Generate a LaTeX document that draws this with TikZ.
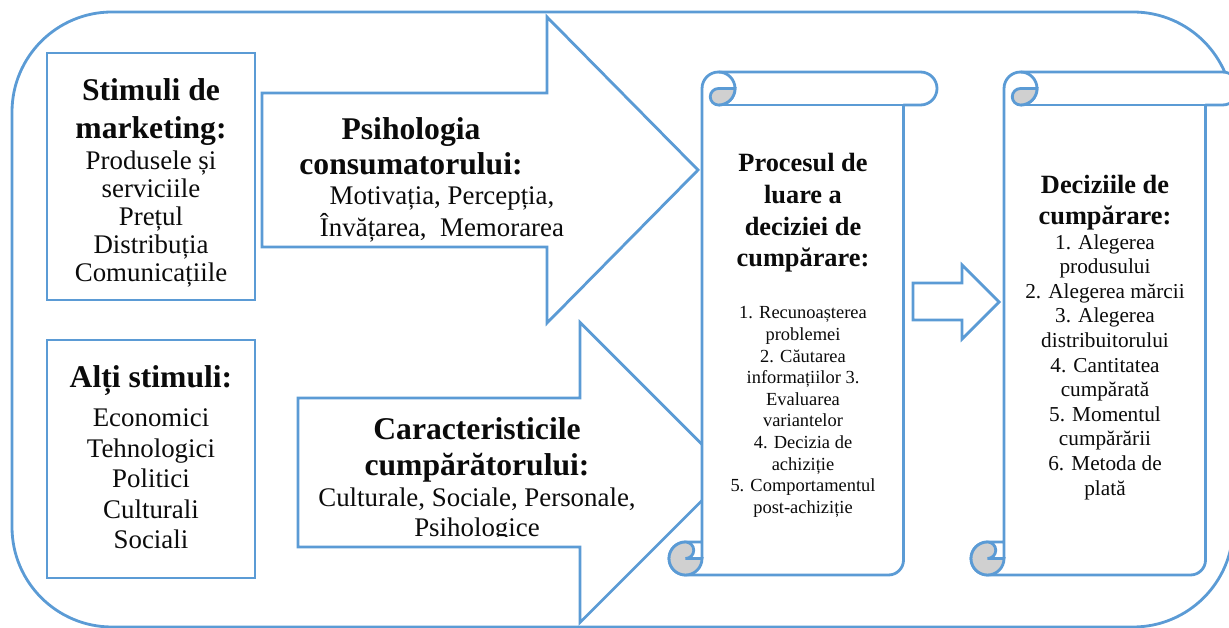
\documentclass[tikz,border=0pt]{standalone}
\usepackage{fontspec}
\setmainfont{Liberation Serif}
\usetikzlibrary{calc,positioning}
\definecolor{cblue}{HTML}{5B9BD5}
\definecolor{cgrey}{HTML}{D0D0D0}
\definecolor{cink}{HTML}{0B0B0B}
\newcommand\scrollat[1]{% x shift of one scroll
  \begin{scope}[shift={(#1,0)}]
  \filldraw[roll] (702,69.5) -- (702,539.5) arc[start angle=180,end angle=90,radius=16.5]
    -- (920.5,556) arc[start angle=90,end angle=-90,radius=16.5] -- (903.5,523)
    -- (903.5,68) arc[start angle=0,end angle=-90,radius=15] -- (685.5,53)
    arc[start angle=270,end angle=90,radius=16.5] -- (702,86) -- cycle;
  \draw[frame] (903.5,523) -- (718.5,523);
  \draw[frame] (718.5,556) arc[start angle=90,end angle=-90,radius=16.5];
  \filldraw[curl] (735,539.5) arc[start angle=0,end angle=-90,radius=16.5]
    arc[start angle=-90,end angle=-270,radius=8.25] -- cycle;
  \filldraw[curl] (702,69.5) arc[start angle=0,end angle=-270,radius=16.5]
    arc[start angle=90,end angle=-90,radius=8.25] -- cycle;
  \end{scope}}

\begin{document}
\begin{tikzpicture}[x=0.02cm, y=0.02cm, text=cink,
  frame/.style={draw=cblue, line width=1.6pt},
  blockarr/.style={frame, fill=white, line join=miter},
  roll/.style={frame, fill=white, line join=round},
  curl/.style={frame, fill=cgrey},
  head/.style={align=center, inner sep=0pt, font=\fontsize{18}{#1}\selectfont\bfseries},
  head/.default=21.5,
  shead/.style={align=center, inner sep=0pt, font=\fontsize{15}{#1}\selectfont\bfseries},
  txt/.style={align=center, inner sep=0pt, font=\fontsize{15.3}{#1}\selectfont},
  small/.style 2 args={align=center, inner sep=0pt, font=\fontsize{#1}{#2}\selectfont}]
\useasboundingbox (0,0) rectangle (1229,628);
\clip (0,0) rectangle (1229,628);
%% frame round everything
\draw[frame, rounded corners=2cm] (12,616) rectangle (1233,1);
%% the two big arrows
\filldraw[blockarr] (262,535) -- (547,535) -- (547,611) -- (698,458) -- (547,305) -- (547,381) -- (262,381) -- cycle;
\filldraw[blockarr] (298,230) -- (580,230) -- (580,305.5) -- (730,155.5) -- (580,5.5) -- (580,81) -- (298,81) -- cycle;
%% stimuli boxes
\draw[frame] (47,575) rectangle (255,328);
\draw[frame] (47,288) rectangle (255,50);
%% scrolls
\scrollat{0}
\scrollat{302}
\filldraw[blockarr] (913,345) -- (962,345) -- (962,363) -- (999,326) -- (962,289) -- (962,308) -- (913,308) -- cycle;
%% texts
\node[head=21.6] (stimT) at (151,516) {Stimuli de\\marketing:};
\node[txt=15.9] (stimB) at (151,409) {Produsele și\\serviciile\\Prețul\\Distribuția\\Comunicațiile};
\node[head] (altT) at (151,247) {Alți stimuli:};
\node[txt=17.4] (altB) at (151,149) {Economici\\Tehnologici\\Politici\\Culturali\\Sociali};
\node[head=20] (psyT) at (411,482) {Psihologia\\consumatorului:};
\node[txt=18.2] (psyB) at (442,414) {Motivația, Percepția,\\Învățarea,\ \ Memorarea};
\node[head=20.5] (carT) at (477,178) {Caracteristicile\\cumpărătorului:};
\begin{scope}
\clip (298,91) rectangle (700,230);
\node[txt=17.1] (carB) at (477,113) {Culturale, Sociale, Personale,\\Psihologice};
\end{scope}
\node[shead=18] (procT) at (803,415) {Procesul de\\luare a\\deciziei de\\cumpărare:};
\node[small={10.5}{12.3}] (procL) at (803,216)
  {1. Recunoașterea\\problemei\\2. Căutarea\\informațiilor 3.\\Evaluarea\\variantelor\\4. Decizia de\\achiziție\\5. Comportamentul\\post-achiziție};
\node[shead=17.6] (decT) at (1105,425) {Deciziile de\\cumpărare:};
\node[small={12.1}{14}] (decL) at (1105,261)
  {1. Alegerea\\produsului\\2. Alegerea mărcii\\3. Alegerea\\distribuitorului\\4. Cantitatea\\cumpărată\\5. Momentul\\cumpărării\\6. Metoda de\\plată};
\end{tikzpicture}
\end{document}
